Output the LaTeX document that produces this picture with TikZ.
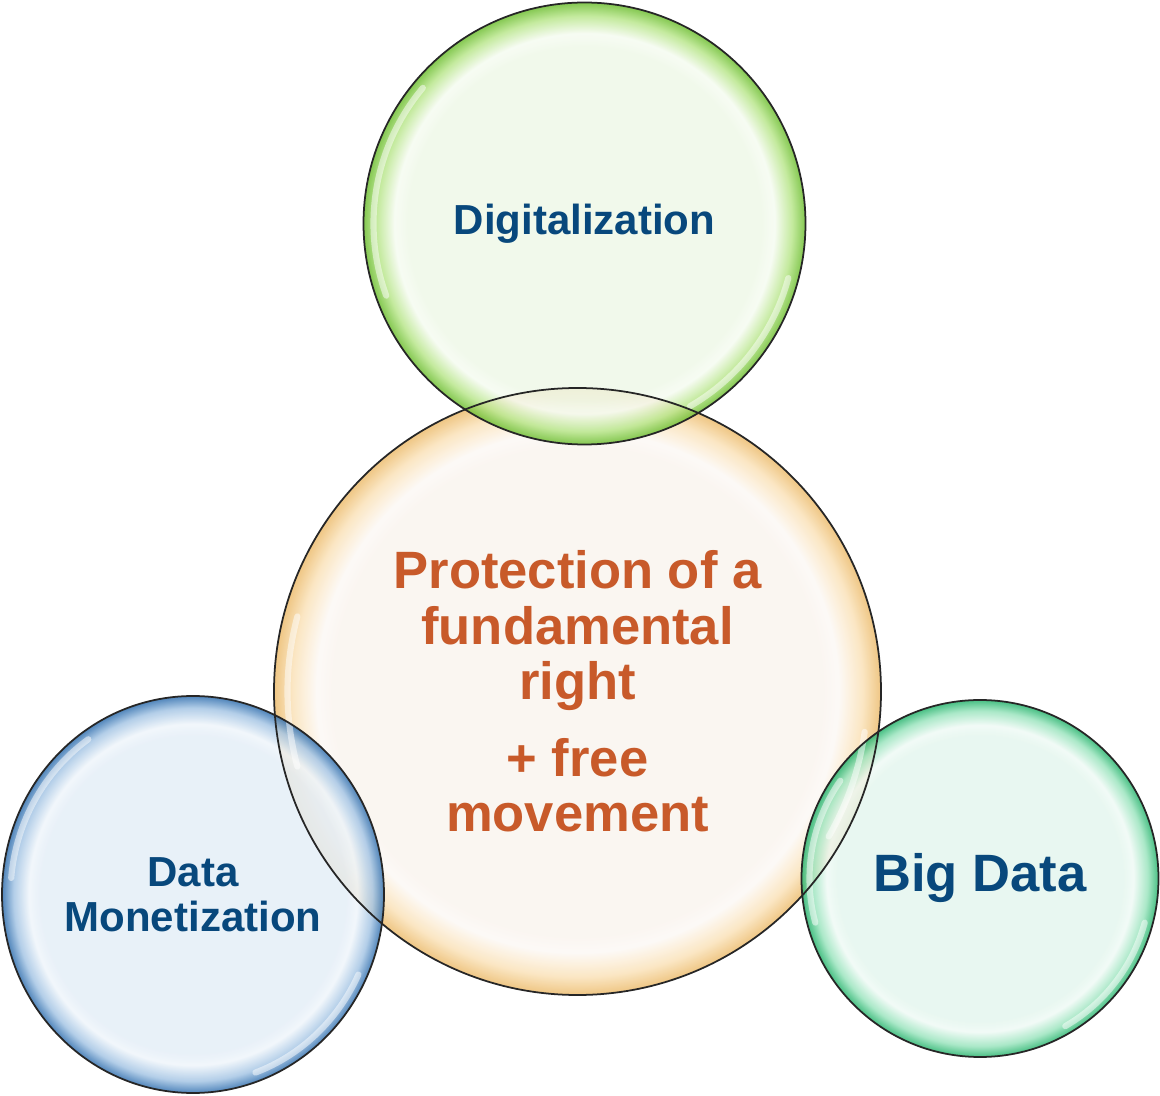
\documentclass[tikz,border=0pt]{standalone}
\usepackage{fontspec}
\setmainfont{Liberation Sans}
\usetikzlibrary{shapes.geometric}

% Colours
\definecolor{txtblue}{RGB}{8,72,124}
\definecolor{txtorange}{RGB}{200,90,42}
\definecolor{greenin}{RGB}{239,248,232}
\definecolor{greenmid}{RGB}{185,230,140}
\definecolor{greenrim}{RGB}{110,190,50}
\definecolor{orangein}{RGB}{249,244,238}
\definecolor{orangemid}{RGB}{250,226,185}
\definecolor{orangerim}{RGB}{236,188,110}
\definecolor{bluein}{RGB}{228,238,247}
\definecolor{bluemid}{RGB}{165,197,228}
\definecolor{bluerim}{RGB}{50,112,175}
\definecolor{tealin}{RGB}{228,246,238}
\definecolor{tealmid}{RGB}{155,228,190}
\definecolor{tealrim}{RGB}{40,180,110}

\newcommand{\bubbleshading}[2]{%
    \pgfdeclareradialshading{#1}{\pgfpoint{0bp}{0bp}}{%
        color(0bp)=(#2in); color(20bp)=(#2in);
        color(21.5bp)=(#2in!60!white); color(23.5bp)=(#2mid);
        color(25bp)=(#2rim); color(50bp)=(#2rim)}}
\bubbleshading{greenbubble}{green}
\bubbleshading{orangebubble}{orange}
\bubbleshading{bluebubble}{blue}
\bubbleshading{tealbubble}{teal}

\tikzset{
    bubble/.style={
        circle,
        inner sep=0pt,
        shade,
        fill opacity=0.85,
        text opacity=1,
        align=center,
        font=\bfseries
    },
    smalltext/.style={font=\bfseries\fontsize{23.9}{25.6}\selectfont, text=txtblue},
    bigtext/.style={font=\bfseries\fontsize{29.9}{31.6}\selectfont},
    rim/.style={draw=black!85, line width=1pt},
    gloss/.style={draw=white, line width=3.5pt, line cap=round, opacity=0.5}
}

\begin{document}
\begin{tikzpicture}

    \useasboundingbox (0,0) rectangle (23.2,21.9);

    % Central bubble
    \node[bubble, bigtext, text=txtorange, shading=orangebubble, minimum size=12.14cm] (mid) at (11.55,8.07)
        {Protection of a\\fundamental\\right\\[12pt]+ free\\movement};

    % Outer bubbles
    \node[bubble, smalltext, shading=greenbubble, minimum size=8.84cm] (dig) at (11.69,17.43) {Digitalization};
    \node[bubble, ellipse, smalltext, shading=bluebubble, minimum width=7.64cm, minimum height=7.94cm] (mon) at (3.86,4.01)
        {Data\\Monetization};
    \node[bubble, bigtext, text=txtblue, shading=tealbubble, minimum size=7.14cm] (big) at (19.60,4.33) {Big Data};

    % Glints
    \draw[gloss] (mid.center) ++(165:5.8) arc[start angle=165, end angle=195, radius=5.8];
    \draw[gloss] (mid.center) ++(330:5.8) arc[start angle=330, end angle=352, radius=5.8];
    \draw[gloss] (dig.center) ++(140:4.22) arc[start angle=140, end angle=200, radius=4.22];
    \draw[gloss] (dig.center) ++(300:4.22) arc[start angle=300, end angle=345, radius=4.22];
    \draw[gloss] (mon.center) ++(125:3.65 and 3.79) arc[start angle=125, end angle=175, x radius=3.65, y radius=3.79];
    \draw[gloss] (mon.center) ++(290:3.65 and 3.79) arc[start angle=290, end angle=335, x radius=3.65, y radius=3.79];
    \draw[gloss] (big.center) ++(145:3.41) arc[start angle=145, end angle=195, radius=3.41];
    \draw[gloss] (big.center) ++(300:3.41) arc[start angle=300, end angle=345, radius=3.41];

    % Outlines on top
    \draw[rim] (mid.center) circle[radius=6.07];
    \draw[rim] (dig.center) circle[radius=4.42];
    \draw[rim] (mon.center) ellipse[x radius=3.82, y radius=3.97];
    \draw[rim] (big.center) circle[radius=3.57];

\end{tikzpicture}
\end{document}
